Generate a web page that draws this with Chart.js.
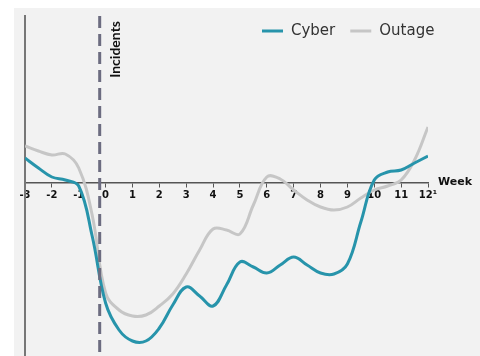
<!DOCTYPE html>
<html lang="en">
<head>
  <meta charset="UTF-8">
  <title>Cyber vs Outage</title>
  <script src="https://cdn.jsdelivr.net/npm/chart.js"></script>
  <style>
    body { margin: 0; background: white; }
    .panel { position: absolute; left: 14px; top: 8px; width: 466px; height: 348px; background: #f2f2f2; }
    #grafico { position: absolute; left: 0; top: 0; }
  </style>
</head>
<body>
  <div class="panel"></div>
  <canvas id="grafico" width="480" height="356"></canvas>

  <script>
    // weeks relative to the incident
    const weeks = [-3, -2.5, -2, -1.5, -1, -0.5, 0, 0.5, 1, 1.5, 2, 2.5, 3, 3.5, 4, 4.5,
                   5, 5.5, 6, 6.5, 7, 7.5, 8, 8.5, 9, 9.5, 10, 10.5, 11, 11.5, 12];
    const cyber = [2.5, 1.5, 0.6, 0.3, -0.3, -5.3, -12.0, -14.7, -15.8, -15.8, -14.5, -12.2, -10.4, -11.3, -12.3, -10.2,
                   -7.9, -8.4, -9.0, -8.2, -7.4, -8.2, -9.0, -9.1, -8.1, -3.9, 0.3, 1.1, 1.3, 2.0, 2.7];
    const outage = [3.7, 3.2, 2.8, 2.9, 1.5, -3.2, -11.0, -12.7, -13.3, -13.2, -12.3, -11.1, -9.1, -6.7, -4.6, -4.7,
                    -5.1, -2.2, 0.6, 0.4, -0.7, -1.7, -2.4, -2.7, -2.4, -1.5, -0.7, -0.3, 0.3, 2.3, 5.6];
    const incidentWeek = -0.22;
    const yMin = -17.2, yMax = 16.7;

    const teal = '#2794ab';
    const gris = '#c6c6c6';
    const fuente = '"DejaVu Sans", sans-serif';

    const puntos = (serie) => weeks.map((w, i) => ({ x: w, y: serie[i] }));

    // legend, "Incidents" and "Week" labels
    const extras = {
      id: 'extras',
      afterDraw(chart) {
        const ctx = chart.ctx;
        const area = chart.chartArea;
        const xs = chart.scales.x, ys = chart.scales.y;
        ctx.save();

        // legend
        let lx = 262;
        const ly = 31;
        ctx.font = '15px ' + fuente;
        ctx.textBaseline = 'middle';
        chart.data.datasets.filter(d => d.enLeyenda).forEach(d => {
          ctx.strokeStyle = d.borderColor;
          ctx.lineWidth = 3;
          ctx.beginPath();
          ctx.moveTo(lx, ly);
          ctx.lineTo(lx + 21, ly);
          ctx.stroke();
          ctx.fillStyle = '#333';
          ctx.fillText(d.label, lx + 29, ly);
          lx += 29 + ctx.measureText(d.label).width + 15;
        });

        // Incidents
        ctx.fillStyle = '#111';
        ctx.font = 'bold 14px Lato, sans-serif';
        ctx.translate(xs.getPixelForValue(incidentWeek) + 16, area.top + 5);
        ctx.rotate(-Math.PI / 2);
        ctx.textAlign = 'right';
        ctx.textBaseline = 'middle';
        ctx.fillText('Incidents', 0, 0);
        ctx.restore();

        // Week
        ctx.save();
        ctx.fillStyle = '#111';
        ctx.font = 'bold 11px ' + fuente;
        ctx.textBaseline = 'middle';
        ctx.fillText('Week', area.right + 10, ys.getPixelForValue(0) - 1);
        ctx.restore();
      }
    };

    new Chart(document.getElementById('grafico'), {
      type: 'line',
      data: {
        datasets: [
          {
            label: 'Incidents',
            data: [{ x: incidentWeek, y: yMax }, { x: incidentWeek, y: yMin }],
            borderColor: '#6c6c80', borderWidth: 3, borderDash: [12, 6],
            pointRadius: 0, order: 0
          },
          {
            label: 'Cyber', enLeyenda: true,
            data: puntos(cyber),
            borderColor: teal, borderWidth: 3, tension: 0.4,
            pointRadius: 0, order: 1
          },
          {
            label: 'Outage', enLeyenda: true,
            data: puntos(outage),
            borderColor: gris, borderWidth: 3, tension: 0.4,
            pointRadius: 0, order: 2
          }
        ]
      },
      options: {
        responsive: false,
        animation: false,
        layout: { padding: { left: 17, right: 52, top: 16, bottom: 1 } },
        plugins: { legend: { display: false }, tooltip: { enabled: false } },
        scales: {
          x: {
            type: 'linear', min: -3, max: 12,
            position: { y: 0 },
            grid: { drawOnChartArea: false, tickLength: 4, color: '#555' },
            border: { color: '#555', width: 1.5 },
            ticks: {
              stepSize: 1, padding: 2, color: '#111',
              font: { family: fuente, weight: 'bold', size: 10 },
              callback: v => v === 12 ? '12\u00b9' : v
            }
          },
          y: {
            min: yMin, max: yMax,
            grid: { display: false },
            border: { color: '#777', width: 2 },
            ticks: { display: false }
          }
        }
      },
      plugins: [extras]
    });
  </script>
</body>
</html>
